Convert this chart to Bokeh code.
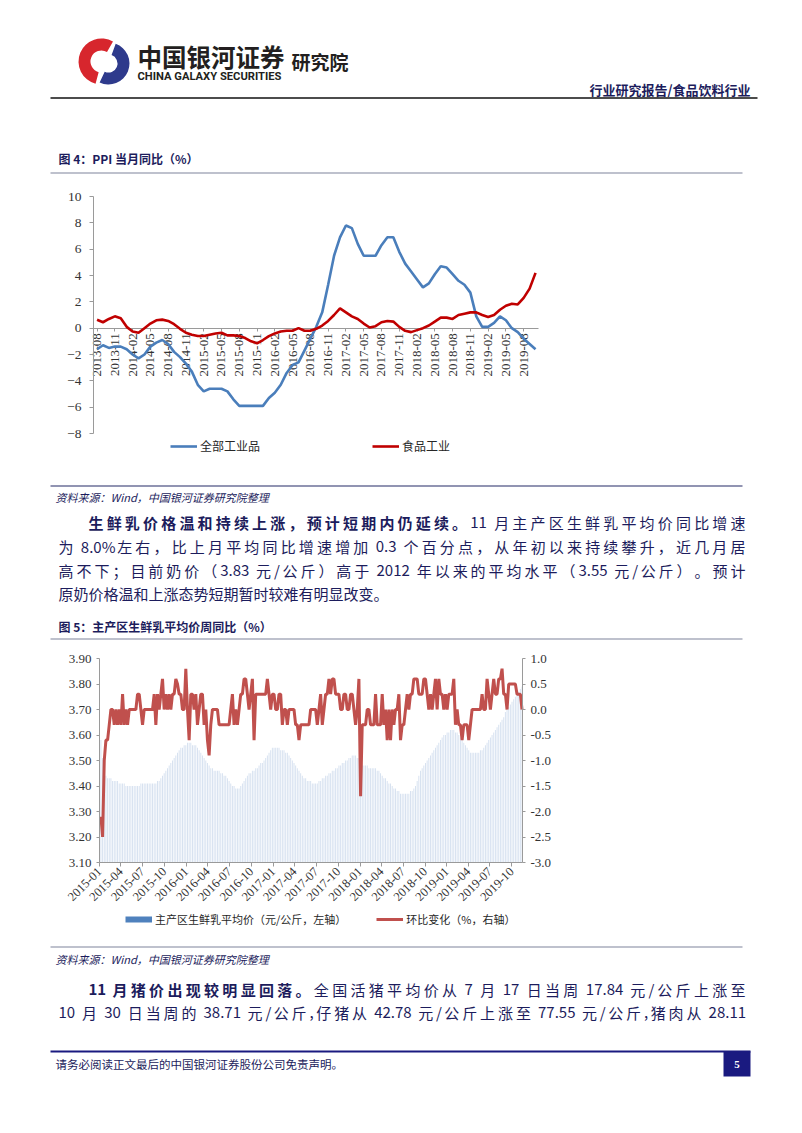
import numpy as np
import pandas as pd
from bokeh.plotting import figure
from bokeh.layouts import column
from bokeh.models import (Range1d, LinearAxis, DatetimeAxis, FixedTicker, Legend, LegendItem,
                          DatetimeTickFormatter, PrintfTickFormatter)
from bokeh.core.properties import value
from bokeh.embed import file_html
from bokeh.resources import INLINE

# ---------------------------------------------------------------- data
ppi_start = "2013-08"
ppi_all = [-1.6, -1.3, -1.5, -1.4, -1.4,
           -1.6, -2.0, -2.3, -2.0, -1.4, -1.1, -0.9, -1.2, -1.8, -2.2, -2.7, -3.3,
           -4.3, -4.8, -4.6, -4.6, -4.6, -4.8, -5.4, -5.9, -5.9, -5.9, -5.9, -5.9,
           -5.3, -4.9, -4.3, -3.4, -2.8, -2.6, -1.7, -0.8, 0.1, 1.2, 3.3, 5.5,
           6.9, 7.8, 7.6, 6.4, 5.5, 5.5, 5.5, 6.3, 6.9, 6.9, 5.8, 4.9,
           4.3, 3.7, 3.1, 3.4, 4.1, 4.7, 4.6, 4.1, 3.6, 3.3, 2.7, 0.9,
           0.1, 0.1, 0.4, 0.9, 0.6, 0.0, -0.3, -0.8, -1.2, -1.6]
ppi_food = [0.64, 0.45, 0.7, 0.9, 0.75,
            0.1, -0.25, -0.35, 0.0, 0.35, 0.6, 0.65, 0.55, 0.3, -0.05, -0.35, -0.5,
            -0.6, -0.6, -0.5, -0.4, -0.35, -0.55, -0.55, -0.6, -0.75, -1.0, -1.15, -0.9,
            -0.6, -0.4, -0.25, -0.2, -0.2, 0.0, -0.2, -0.2, -0.05, 0.2, 0.55, 1.0,
            1.5, 1.2, 0.9, 0.7, 0.35, 0.05, 0.15, 0.45, 0.55, 0.5, 0.1, -0.2,
            -0.3, -0.15, 0.0, 0.2, 0.5, 0.8, 0.8, 0.7, 1.0, 1.1, 1.2, 1.2,
            1.0, 0.85, 1.0, 1.4, 1.7, 1.85, 1.8, 2.3, 3.0, 4.2]
ppi_ticks = ["2013-08", "2013-11", "2014-02", "2014-05", "2014-08", "2014-11",
             "2015-02", "2015-05", "2015-08", "2015-11", "2016-02", "2016-05",
             "2016-08", "2016-11", "2017-02", "2017-05", "2017-08", "2017-11",
             "2018-02", "2018-05", "2018-08", "2018-11", "2019-02", "2019-05",
             "2019-08"]
ppi_names = ["全部工业品", "食品工业"]

milk_start = "2015-01-07"
milk_price = [3.58, 3.51,
              3.44, 3.44, 3.43, 3.43, 3.43, 3.42, 3.42, 3.42, 3.42, 3.41, 3.41, 3.41, 3.41, 3.40, 3.40, 3.40, 3.40, 3.40, 3.40,
              3.40, 3.40, 3.40, 3.41, 3.41, 3.41, 3.41, 3.41, 3.41, 3.41, 3.41, 3.41, 3.41,
              3.42, 3.42, 3.43, 3.44, 3.45, 3.46, 3.47, 3.48, 3.49, 3.50, 3.51, 3.52,
              3.53, 3.54, 3.55, 3.55, 3.56, 3.56, 3.57, 3.57, 3.57, 3.56, 3.56, 3.56, 3.55,
              3.54, 3.53, 3.52, 3.51, 3.50, 3.49, 3.48, 3.47, 3.47, 3.46, 3.46, 3.46, 3.46, 3.45, 3.45,
              3.44, 3.44, 3.43, 3.42, 3.41, 3.40, 3.40, 3.39, 3.39,
              3.39, 3.40, 3.41, 3.42, 3.43, 3.44, 3.45, 3.45, 3.46, 3.46, 3.47, 3.47, 3.48, 3.49, 3.49, 3.50,
              3.51, 3.52, 3.53, 3.54, 3.55, 3.55, 3.55, 3.55, 3.55, 3.54, 3.54, 3.54, 3.53, 3.53,
              3.52, 3.51, 3.50, 3.49, 3.48, 3.47, 3.46, 3.45, 3.44, 3.43, 3.43, 3.42, 3.42,
              3.42, 3.41, 3.41, 3.41, 3.41, 3.42, 3.42, 3.43, 3.43, 3.44, 3.44, 3.45,
              3.45, 3.46, 3.46, 3.47, 3.47, 3.48, 3.48, 3.49, 3.49, 3.50, 3.50, 3.51, 3.51, 3.52, 3.52,
              3.52, 3.51, 3.51, 3.49, 3.48, 3.48, 3.48, 3.48, 3.47, 3.47, 3.47, 3.47, 3.47,
              3.46, 3.46, 3.45, 3.44, 3.43, 3.43, 3.42, 3.41, 3.41, 3.40, 3.39, 3.39, 3.38, 3.38, 3.37, 3.37,
              3.37, 3.37, 3.37, 3.37, 3.38, 3.38, 3.39, 3.40, 3.42, 3.44, 3.46,
              3.47, 3.48, 3.49, 3.50, 3.51, 3.52, 3.53, 3.54, 3.55, 3.56, 3.57, 3.58, 3.59, 3.60, 3.60, 3.61, 3.61,
              3.62, 3.62, 3.62, 3.61, 3.61, 3.60, 3.59, 3.58, 3.57, 3.56, 3.55,
              3.54, 3.53, 3.53, 3.53, 3.53, 3.53, 3.53, 3.54, 3.54, 3.55, 3.56, 3.57,
              3.58, 3.59, 3.60, 3.61, 3.62, 3.63, 3.64, 3.65, 3.66, 3.67, 3.69, 3.70, 3.71, 3.72, 3.73, 3.74,
              3.75, 3.76, 3.77, 3.78, 3.79]
milk_wow = [-2.1, -2.5, -1.0, -0.6, -0.6, -0.3, 0.0, 0.0, -0.3, 0.0,
            -0.3, 0.0, -0.3, 0.3, -0.3, 0.0, -0.3, 0.0, 0.0, 0.0,
            0.0, 0.0, 0.3, 0.3, 0.0, -0.3, 0.0, 0.0, 0.0, 0.0,
            0.0, 0.0, 0.3, -0.3, 0.3, 0.0, 0.3, 0.6, 0.0, 0.3,
            0.0, 0.3, 0.0, 0.3, 0.3, 0.6, 0.5, 0.3, 0.3, 0.0,
            0.0, 0.8, 0.0, -0.6, 0.3, 0.3, 0.0, 0.3, -0.3, 0.0,
            0.3, 0.3, -0.3, 0.0, -0.6, -0.9, -0.3, 0.0, 0.0, 0.0,
            0.0, -0.3, -0.3, -0.3, -0.3, -0.3, -0.3, -0.3, 0.0, 0.3,
            -0.3, 0.0, -0.3, 0.0, 0.3, 0.3, 0.6, 0.6, 0.3, 0.0,
            0.3, 0.6, -0.6, 0.3, 0.3, 0.3, 0.3, 0.3, 0.3, 0.3,
            0.6, 0.3, 0.0, 0.3, 0.3, 0.0, 0.0, 0.3, 0.3, -0.3,
            0.0, 0.0, -0.3, 0.0, 0.0, 0.0, 0.0, -0.3, -0.3, -0.6,
            -0.3, -0.3, -0.3, -0.3, -0.3, -0.3, 0.0, 0.0, 0.0, 0.0,
            -0.3, 0.0, 0.3, -0.3, 0.0, 0.3, 0.3, 0.6, 0.3, 0.6,
            0.6, 0.3, 0.3, 0.3, 0.0, 0.0, 0.3, 0.3, 0.0, 0.0,
            0.3, 0.3, 0.0, -0.3, 0.0, 0.6, -1.7, -0.3, -0.3, -0.3,
            0.0, 0.0, -0.3, -0.3, -0.3, 0.3, -0.3, -0.3, -0.3, 0.3,
            -0.3, 0.0, -0.6, 0.0, -0.6, 0.0, -0.3, 0.0, 0.0, 0.3,
            -0.6, -0.3, -0.3, 0.0, 0.3, 0.0, 0.3, 0.3, 0.6, 0.6,
            0.6, 0.3, 0.3, 0.3, 0.6, 0.6, 0.3, 0.0, 0.3, 0.0,
            0.3, 0.6, 0.0, 0.6, 0.3, 0.3, 0.0, 0.3, 0.0, 0.3,
            0.3, 0.3, 0.6, -0.3, 0.0, -0.3, -0.3, -0.6, -0.3, -0.3,
            -0.3, -0.6, -0.3, 0.0, 0.0, 0.0, 0.0, 0.0, 0.0, 0.3,
            0.0, 0.0, 0.6, 0.3, 0.0, 0.3, 0.6, 0.3, 0.3, 0.6,
            0.6, 0.8, 0.3, 0.3, 0.0, 0.5, 0.5, 0.5, 0.5, 0.5,
            0.3, 0.3, 0.3, 0.0]
milk_ticks = ["2015-01", "2015-04", "2015-07", "2015-10", "2016-01", "2016-04",
              "2016-07", "2016-10", "2017-01", "2017-04", "2017-07", "2017-10",
              "2018-01", "2018-04", "2018-07", "2018-10", "2019-01", "2019-04",
              "2019-07", "2019-10"]
milk_names = ["主产区生鲜乳平均价（元/公斤，左轴）", "环比变化（%，右轴）"]

# ---------------------------------------------------------------- helpers
W = 802
CJK = "Noto Sans CJK SC"
SERIF = "Liberation Serif"
NAVY = "#1c1c5c"
GRAYLINE = "#a9acbd"
AXC = "#9a9a9a"
LBL = "#333333"


def bare_fig(top, bottom, x_range, y_range):
    p = figure(width=W, height=bottom - top, x_range=x_range, y_range=y_range,
               output_backend="svg", toolbar_location=None,
               x_axis_location=None, y_axis_location=None, min_border=0)
    p.grid.visible = False
    p.outline_line_color = None
    return p


def page_fig(top, bottom):
    return bare_fig(top, bottom, Range1d(0, W), Range1d(bottom, top))


def lin(p0, v0, p1, v1, at):
    return v0 + (at - p0) * (v1 - v0) / (p1 - p0)


def txt(p, x, y, s, size, color=NAVY, style="normal", align="left", font=CJK):
    p.text(x=[x], y=[y], text=[s], text_font=value(font), text_font_size=f"{size}px",
           text_color=color, text_align=align, text_baseline="middle",
           text_font_style=style)


def hline(p, x0, x1, y, color, width):
    p.segment(x0=[x0], y0=[y], x1=[x1], y1=[y], line_color=color, line_width=width)


def tok_w(tok, size):
    w = 0.0
    for ch in tok:
        if ord(ch) > 0x2E80:
            w += 1.0
        elif ch.isdigit():
            w += 0.55
        elif ch in ".,":
            w += 0.26
        elif ch == "%":
            w += 0.85
        elif ch == "/":
            w += 0.36
        elif ch.isupper():
            w += 0.62
        else:
            w += 0.5
    return w * size


def para_line(p, segments, x0, x1, y, size, justify=True):
    toks = []
    gap = 0.0
    for s, bold in segments:
        buf = ""
        for ch in s:
            if ch == " ":
                if buf:
                    toks.append((buf, bold, gap)); gap = 0.0; buf = ""
                gap += 0.28 * size
            elif ord(ch) > 0x2E80:
                if buf:
                    toks.append((buf, bold, gap)); gap = 0.0; buf = ""
                toks.append((ch, bold, gap)); gap = 0.0
            else:
                buf += ch
        if buf:
            toks.append((buf, bold, gap)); gap = 0.0
    widths = [tok_w(t[0], size) for t in toks]
    natural = sum(widths) + sum(t[2] for t in toks[1:])
    extra = (x1 - x0 - natural) / (len(toks) - 1) if (justify and len(toks) > 1) else 0.0
    x = x0
    groups = {True: ([], []), False: ([], [])}
    for i, (t, w) in enumerate(zip(toks, widths)):
        if i > 0:
            x += t[2] + extra
        groups[t[1]][0].append(x)
        groups[t[1]][1].append(t[0])
        x += w
    for bold, (xs, ts) in groups.items():
        if xs:
            p.text(x=xs, y=[y] * len(xs), text=ts, text_font=value(CJK),
                   text_font_size=f"{size}px", text_color=NAVY, text_align="left",
                   text_baseline="middle", text_font_style="bold" if bold else "normal")


def style_axis(ax, size="13px", out=4, standoff=4):
    ax.major_tick_in = 0
    ax.major_tick_out = out
    ax.minor_tick_line_color = None
    ax.axis_line_color = AXC
    ax.major_tick_line_color = AXC
    ax.major_label_standoff = standoff
    ax.major_label_text_font = SERIF
    ax.major_label_text_font_size = size
    ax.major_label_text_color = LBL


# ---------------------------------------------------------------- header (page 0-183)
pa = page_fig(0, 183)
pa.annular_wedge(x=[101], y=[61], inner_radius=11, outer_radius=23,
                 start_angle=np.deg2rad(60), end_angle=np.deg2rad(255),
                 fill_color="#d7262d", line_color=None)
pa.annular_wedge(x=[108], y=[63], inner_radius=9, outer_radius=21,
                 start_angle=np.deg2rad(-115), end_angle=np.deg2rad(70),
                 fill_color="#2e3a8c", line_color=None)
txt(pa, 137, 55.5, "中国银河证券", 24.5, color="#231f20", style="bold")
txt(pa, 137, 75.5, "CHINA GALAXY SECURITIES", 11.2, color="#231f20", style="bold", font="Roboto")
txt(pa, 291, 61, "研究院", 19, color="#231f20", style="bold")
txt(pa, 750, 88.5, "行业研究报告/食品饮料行业", 13, style="bold", align="right")
hline(pa, 50, 757, 97.5, "#111111", 1.5)
txt(pa, 58, 158, "图 4：PPI 当月同比（%）", 12, style="bold")
hline(pa, 50, 742, 172.5, GRAYLINE, 1.5)

# ---------------------------------------------------------------- chart 1 (page 183-478)
months = [str(m) for m in pd.period_range(ppi_start, periods=len(ppi_all), freq="M")]
xi = list(range(len(months)))
tick_pos = [months.index(t) for t in ppi_ticks]
X0, X1 = -0.6, len(months) - 0.5          # data extent of chart 1
Y0, Y1 = -8, 10
T1, B1 = 183, 478                          # page band of the figure
fx = (lin(93, X0, 538, X1, 0), lin(93, X0, 538, X1, W))
fy = (lin(433, Y0, 196, Y1, B1), lin(433, Y0, 196, Y1, T1))
p1 = bare_fig(T1, B1, Range1d(*fx), Range1d(*fy))
r_all = p1.line(xi, ppi_all, line_color="#4a7ebb", line_width=2.6)
r_food = p1.line(xi, ppi_food, line_color="#c00000", line_width=2.6)

xa = LinearAxis(fixed_location=0, bounds=(X0, X1), ticker=FixedTicker(ticks=tick_pos),
                major_label_overrides={pos: lbl for pos, lbl in zip(tick_pos, ppi_ticks)},
                major_label_orientation=np.pi / 2)
style_axis(xa, "13px", out=3, standoff=2)
xa.level = "underlay"
p1.add_layout(xa, "below")
ya = LinearAxis(fixed_location=X0, bounds=(Y0, Y1), ticker=FixedTicker(ticks=list(range(-8, 11, 2))))
style_axis(ya, "13.5px", out=4, standoff=8)
p1.add_layout(ya, "left")

leg1 = Legend(items=[LegendItem(label=ppi_names[0], renderers=[r_all]),
                     LegendItem(label=ppi_names[1], renderers=[r_food])],
              orientation="horizontal", location=(170, 24), spacing=112,
              glyph_width=27, glyph_height=14, label_height=14, label_standoff=3,
              padding=0, margin=0, border_line_color=None, background_fill_alpha=0,
              label_text_font=CJK, label_text_font_size="12px", label_text_color="#262626")
p1.add_layout(leg1)

# ---------------------------------------------------------------- text (page 478-645)
pc = page_fig(478, 645)
hline(pc, 50, 742, 485.5, "#6d7199", 1.5)
txt(pc, 55, 496, "资料来源：Wind，中国银河证券研究院整理", 11, style="italic")
para_line(pc, [("生鲜乳价格温和持续上涨，预计短期内仍延续。", True),
               ("11 月主产区生鲜乳平均价同比增速", False)], 88, 745, 522, 15)
para_line(pc, [("为 8.0%左右，比上月平均同比增速增加 0.3 个百分点，从年初以来持续攀升，近几月居", False)],
          58, 745, 546, 15)
para_line(pc, [("高不下；目前奶价（3.83 元/公斤）高于 2012 年以来的平均水平（3.55 元/公斤）。预计", False)],
          58, 745, 570, 15)
para_line(pc, [("原奶价格温和上涨态势短期暂时较难有明显改变。", False)], 58, 745, 593, 15, justify=False)
txt(pc, 58, 626, "图 5：主产区生鲜乳平均价周同比（%）", 12, style="bold")
hline(pc, 50, 742, 638.5, GRAYLINE, 1.5)

# ---------------------------------------------------------------- chart 2 (page 645-940)
dates = pd.date_range(milk_start, periods=len(milk_price), freq="7D")
tick_ms = [pd.Timestamp(t + "-01").value / 1e6 for t in milk_ticks]
D0 = pd.Timestamp("2015-01-01").value / 1e6
D1 = pd.Timestamp("2019-11-15").value / 1e6
P0, P1 = 3.1, 3.9
R0, R1 = -3.0, 1.0
T2, B2 = 645, 940
gx = (lin(99, D0, 522, D1, 0), lin(99, D0, 522, D1, W))
gy = (lin(862, P0, 658, P1, B2), lin(862, P0, 658, P1, T2))
gr = (lin(862, R0, 658, R1, B2), lin(862, R0, 658, R1, T2))
p2 = bare_fig(T2, B2, Range1d(*gx), Range1d(*gy))
p2.extra_y_ranges = {"wow": Range1d(*gr)}

p2.vbar(x=dates, top=milk_price, bottom=P0, width=4 * 24 * 3600 * 1000,
        fill_color="#d6e1f0", line_color=None)
r_wow = p2.line(dates, milk_wow, y_range_name="wow", line_color="#c0504d", line_width=3)
# legend-only swatch for the bar series (single NaN point, draws nothing in the plot)
r_leg = p2.line(x=[dates[0]], y=[np.nan], line_color="#4f81bd", line_width=6)

xb = DatetimeAxis(fixed_location=P0, bounds=(D0, D1), ticker=FixedTicker(ticks=tick_ms),
                  formatter=DatetimeTickFormatter(days="%Y-%m", months="%Y-%m", years="%Y-%m"),
                  major_label_orientation=np.pi / 4)
style_axis(xb, "12.5px", out=4, standoff=3)
p2.add_layout(xb, "below")
yl = LinearAxis(fixed_location=D0, bounds=(P0, P1),
                ticker=FixedTicker(ticks=[3.1, 3.2, 3.3, 3.4, 3.5, 3.6, 3.7, 3.8, 3.9]),
                formatter=PrintfTickFormatter(format="%.2f"))
style_axis(yl, "13px", out=3, standoff=5)
p2.add_layout(yl, "left")
yr = LinearAxis(y_range_name="wow", fixed_location=D1, bounds=(R0, R1),
                ticker=FixedTicker(ticks=[-3, -2.5, -2, -1.5, -1, -0.5, 0, 0.5, 1]),
                formatter=PrintfTickFormatter(format="%.1f"))
style_axis(yr, "13px", out=3, standoff=5)
p2.add_layout(yr, "right")

leg2 = Legend(items=[LegendItem(label=milk_names[0], renderers=[r_leg]),
                     LegendItem(label=milk_names[1], renderers=[r_wow])],
              orientation="horizontal", location=(125, 13), spacing=30,
              glyph_width=27, glyph_height=14, label_height=14, label_standoff=3,
              padding=0, margin=0, border_line_color=None, background_fill_alpha=0,
              label_text_font=CJK, label_text_font_size="11px", label_text_color="#262626")
p2.add_layout(leg2)

# ---------------------------------------------------------------- text + footer (page 940-1133)
pe = page_fig(940, 1133)
hline(pe, 50, 742, 946.5, GRAYLINE, 1.5)
txt(pe, 55, 958, "资料来源：Wind，中国银河证券研究院整理", 11, style="italic")
para_line(pe, [("11 月猪价出现较明显回落。", True),
               ("全国活猪平均价从 7 月 17 日当周 17.84 元/公斤上涨至", False)], 88, 745, 989, 15)
para_line(pe, [("10 月 30 日当周的 38.71 元/公斤,仔猪从 42.78 元/公斤上涨至 77.55 元/公斤,猪肉从 28.11", False)],
          58, 745, 1012, 15)
hline(pe, 50, 750, 1051, "#1a1a80", 2)
txt(pe, 55, 1063, "请务必阅读正文最后的中国银河证券股份公司免责声明。", 11.5)
pe.quad(left=[723], right=[750], top=[1051], bottom=[1076], fill_color="#1a1a80", line_color=None)
txt(pe, 736.5, 1064, "5", 11, color="white", style="bold", align="center", font="Liberation Serif")

page = column(pa, p1, pc, p2, pe, spacing=0)
open("out.html", "w").write(file_html(page, INLINE))
